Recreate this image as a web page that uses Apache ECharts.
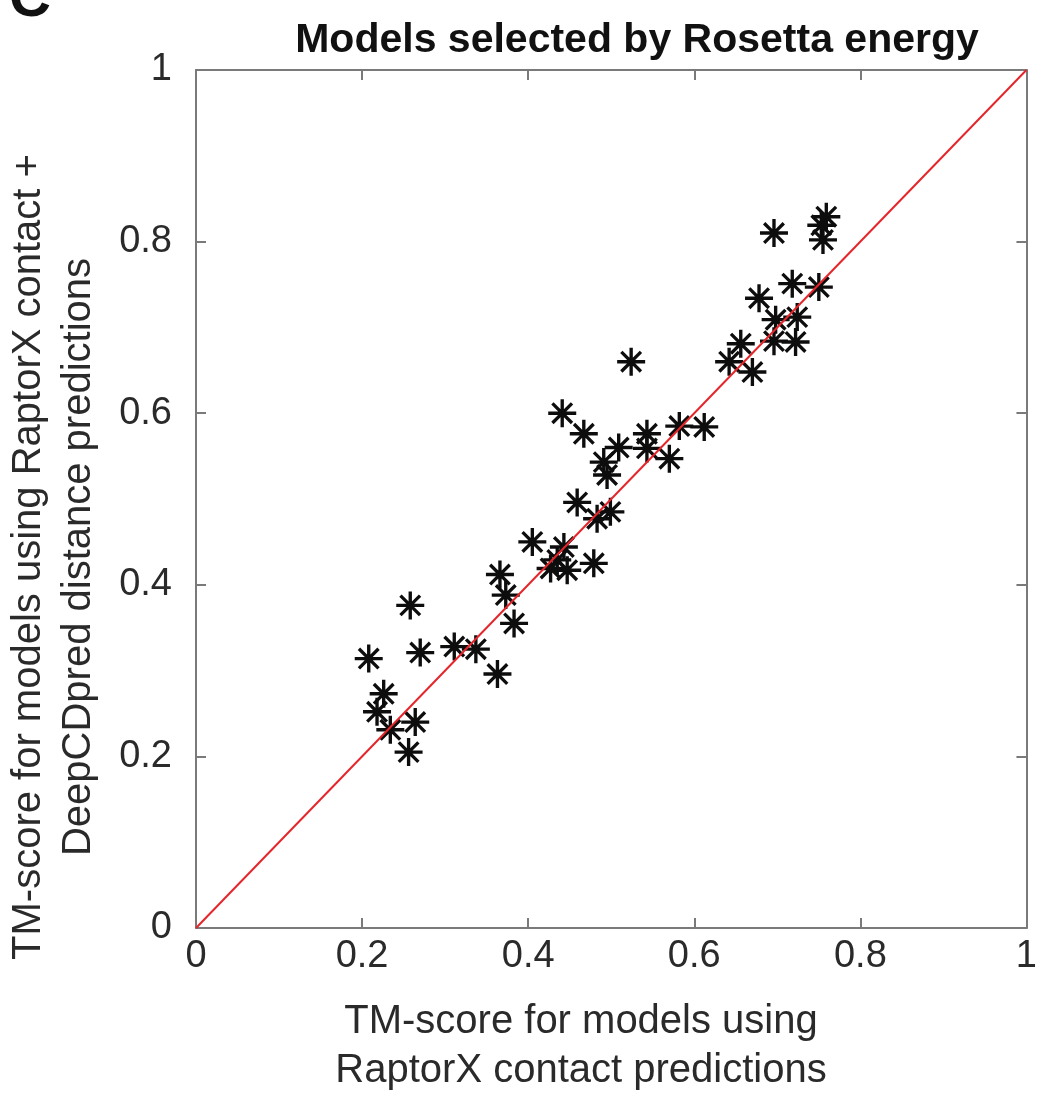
<!DOCTYPE html>
<html>
<head>
<meta charset="utf-8">
<script src="https://cdn.jsdelivr.net/npm/echarts@6/dist/echarts.min.js"></script>
<style>
  html, body { margin: 0; padding: 0; background: #ffffff; }
  #chart { width: 1040px; height: 1095px; }
</style>
</head>
<body>
<div id="chart"></div>
<script>
// TM-score using RaptorX contact predictions (x)
const xRaptorX = [
  0.208, 0.258, 0.270, 0.311, 0.337, 0.363, 0.226, 0.218, 0.234, 0.264,
  0.256, 0.366, 0.373, 0.383, 0.405, 0.435, 0.427, 0.447, 0.479, 0.443,
  0.459, 0.483, 0.499, 0.441, 0.467, 0.491, 0.495, 0.509, 0.543, 0.543,
  0.570, 0.582, 0.612, 0.524, 0.642, 0.670, 0.656, 0.696, 0.722, 0.698,
  0.724, 0.678, 0.718, 0.750, 0.696, 0.759, 0.753, 0.755
];
// TM-score using RaptorX contact + DeepCDpred distance predictions (y)
const yCombined = [
  0.314, 0.376, 0.321, 0.328, 0.325, 0.296, 0.273, 0.252, 0.231, 0.240,
  0.205, 0.412, 0.388, 0.355, 0.450, 0.429, 0.419, 0.417, 0.425, 0.444,
  0.496, 0.477, 0.485, 0.600, 0.576, 0.543, 0.528, 0.560, 0.576, 0.559,
  0.547, 0.585, 0.584, 0.660, 0.660, 0.648, 0.681, 0.684, 0.683, 0.709,
  0.712, 0.734, 0.751, 0.747, 0.810, 0.829, 0.819, 0.802
];
const diagonalX = [0, 1];
const diagonalY = [0, 1];

const titleText = 'Models selected by Rosetta energy';
const xName = 'TM-score for models using\nRaptorX contact predictions';
const yName = 'TM-score for models using RaptorX contact +\nDeepCDpred distance predictions';

const points = xRaptorX.map((x, i) => [x, yCombined[i]]);
const diagonal = diagonalX.map((x, i) => [x, diagonalY[i]]);

const asterisk = 'path://M44 0L56 0L56 100L44 100Z' +
  'M0 44L100 44L100 56L0 56Z' +
  'M19.2 10.8L89.2 80.8L80.8 89.2L10.8 19.2Z' +
  'M89.2 19.2L19.2 89.2L10.8 80.8L80.8 10.8Z';

const FONT = '"Liberation Sans", Arial, Helvetica, sans-serif';
const axisColor = '#7a7a7a';
const labelColor = '#2a2a2a';
const fmt = v => String(Math.round(v * 10) / 10);

const chart = echarts.init(document.getElementById('chart'), null, { renderer: 'canvas' });

const baseAxis = {
  type: 'value', min: 0, max: 1, interval: 0.2,
  axisLine: { show: true, onZero: false, lineStyle: { color: axisColor, width: 2 } },
  axisTick: { show: true, inside: true, length: 10, lineStyle: { color: axisColor, width: 2 } },
  splitLine: { show: false }
};

chart.setOption({
  animation: false,
  backgroundColor: '#ffffff',
  title: {
    text: titleText,
    left: 632, top: 15, textAlign: 'center',
    textStyle: { fontFamily: FONT, fontWeight: 'bold', fontSize: 41, color: '#111' }
  },
  grid: { left: 196, top: 70, width: 837, height: 858, containLabel: false },
  xAxis: [
    Object.assign({}, baseAxis, {
      position: 'bottom',
      axisLabel: { show: true, margin: 10, fontSize: 38, fontFamily: FONT, color: labelColor, formatter: fmt }
    }),
    Object.assign({}, baseAxis, { position: 'top', axisLabel: { show: false } })
  ],
  yAxis: [
    Object.assign({}, baseAxis, {
      position: 'left',
      axisLabel: { show: true, margin: 24, fontSize: 38, fontFamily: FONT, color: labelColor, formatter: fmt }
    }),
    Object.assign({}, baseAxis, { position: 'right', axisLabel: { show: false } })
  ],
  graphic: [
    {
      type: 'text', x: 581, y: 1046, silent: true,
      style: { text: xName, font: '40px ' + FONT, fill: labelColor, textAlign: 'center',
               textVerticalAlign: 'middle', lineHeight: 49 }
    },
    {
      type: 'text', x: 54, y: 557, rotation: Math.PI / 2, silent: true,
      style: { text: yName, font: '40px ' + FONT, fill: labelColor, textAlign: 'center',
               textVerticalAlign: 'middle', lineHeight: 50 }
    },
    {
      type: 'text', x: 30, y: 0, silent: true,
      style: { text: 'C', font: 'bold 58px ' + FONT, fill: '#111', textAlign: 'center',
               textVerticalAlign: 'middle' }
    }
  ],
  series: [
    {
      type: 'scatter', xAxisIndex: 0, yAxisIndex: 0,
      data: points, symbol: asterisk, symbolSize: 28,
      itemStyle: { color: '#0d0d0d', opacity: 1 }, z: 2
    },
    {
      type: 'line', xAxisIndex: 0, yAxisIndex: 0,
      data: diagonal, showSymbol: false, symbol: 'none',
      lineStyle: { color: '#e4262b', width: 2 }, z: 3
    }
  ]
});
</script>
</body>
</html>
